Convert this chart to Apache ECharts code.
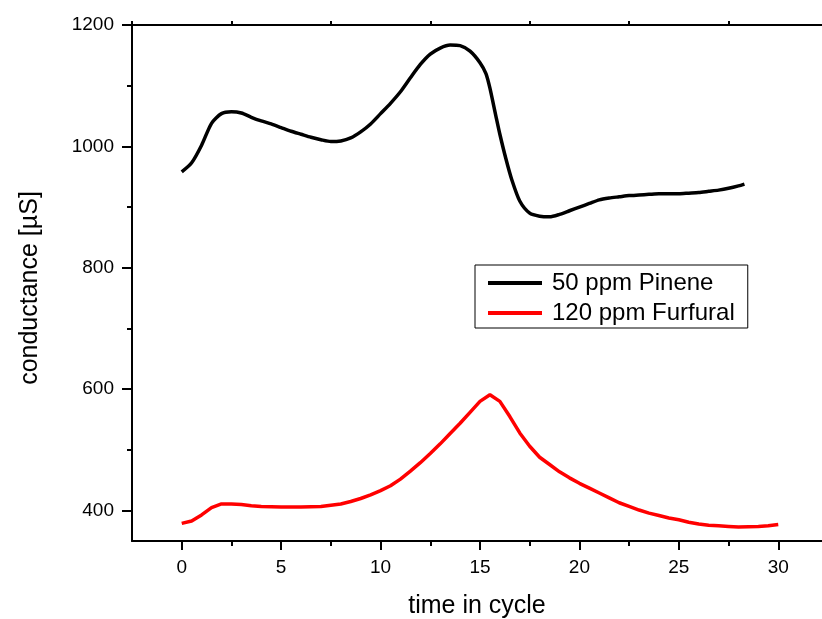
<!DOCTYPE html>
<html>
<head>
<meta charset="utf-8">
<script src="https://cdn.jsdelivr.net/npm/echarts@6/dist/echarts.min.js"></script>
<style>html,body{margin:0;padding:0;background:#fff}#c{width:822px;height:619px}</style>
</head>
<body>
<div id="c"></div>
<script>
// Data
var pineneX = [0,0.5,1,1.5,2,2.5,3,3.5,4,4.5,5,5.5,6,6.5,7,7.5,8,8.5,9,9.5,10,10.5,11,11.5,12,12.5,13,13.5,14,14.5,15,15.3,15.5,15.8,16,16.3,16.6,17,17.5,18,18.5,19,19.5,20,20.5,21,21.5,22,22.5,23,23.5,24,24.5,25,25.5,26,26.5,27,27.5,28,28.3];
var pineneY = [958,973,1002,1038,1054,1057,1055,1048,1042,1037,1031,1025,1020,1015,1011,1008,1009,1014,1024,1037,1054,1071,1090,1113,1135,1152,1162,1167,1166,1157,1138,1120,1096,1050,1020,980,945,910,890,885,884,888,894,900,906,912,915,917,919,920,921,922,922,922,923,924,926,928,931,935,938];
var furfuralX = [0,0.5,1,1.5,2,2.5,3,3.5,4,4.5,5,5.5,6,6.5,7,7.5,8,8.5,9,9.5,10,10.5,11,11.5,12,12.5,13,13.5,14,14.5,15,15.5,16,16.5,17,17.5,18,18.5,19,19.5,20,20.5,21,21.5,22,22.5,23,23.5,24,24.5,25,25.5,26,26.5,27,27.5,28,28.5,29,29.5,30];
var furfuralY = [379,383,393,405,411,411,410,408,407,406.5,406,406,406,406.5,407,409,411,415,420,426,433,441,452,465,479,494,510,527,544,562,580,591,580,555,528,506,488,476,464,454,445,437,429,421,413,407,401,396,392,388,385,381,378,376,375,374,373,373.5,374,375,377];
var seriesNames = ["50 ppm Pinene", "120 ppm Furfural"];
var xMajorTicks = [0,5,10,15,20,25,30];
var xMinorTicks = [2.5,7.5,12.5,17.5,22.5,27.5];
var xTopTicks = [-2.5,2.5,7.5,12.5,17.5,22.5,27.5];
var yMajorTicks = [400,600,800,1000,1200];
var yMinorTicks = [500,700,900,1100];
var xTitle = "time in cycle";
var yTitle = "conductance [µS]";

function pairs(xs, ys){ return xs.map(function(x,i){ return [x, ys[i]]; }); }
function plain(v){ return String(v); }

var FONT = "Liberation Sans, Arial, Helvetica, sans-serif";
var chart = echarts.init(document.getElementById('c'));
var XMIN = -2.5, XMAX = 32.2, YMIN = 350, YMAX = 1200;
var axisLineStyle = {color:'#000', width:2};
chart.setOption({
  animation:false,
  backgroundColor:'#fff',
  grid:{left:132, top:25, right:0, bottom:78, containLabel:false, outerBoundsMode:'none'},
  legend:{
    orient:'vertical', left:475, top:265,
    data:seriesNames,
    borderColor:'#000', borderWidth:1, padding:[6,13,3,13],
    itemWidth:54, itemHeight:4, itemGap:6, icon:'rect',
    textStyle:{fontFamily:FONT, fontSize:24, color:'#000', lineHeight:24, padding:[0,0,0,5]}
  },
  xAxis:[
    {type:'value', position:'bottom', min:XMIN, max:XMAX,
     axisLine:{show:true, onZero:false, lineStyle:axisLineStyle},
     axisTick:{show:true, customValues:xMajorTicks, length:9, lineStyle:{color:'#000', width:2}},
     axisLabel:{show:true, customValues:xMajorTicks, formatter:plain, margin:17, color:'#000', fontSize:19, fontFamily:FONT},
     splitLine:{show:false},
     name:xTitle, nameLocation:'middle', nameGap:53,
     nameTextStyle:{fontFamily:FONT, fontSize:25, color:'#000'}},
    {type:'value', position:'bottom', min:XMIN, max:XMAX,
     axisLine:{show:false, onZero:false},
     axisTick:{show:true, customValues:xMinorTicks, length:5, lineStyle:{color:'#000', width:2}},
     axisLabel:{show:false}, splitLine:{show:false}},
    {type:'value', position:'top', min:XMIN, max:XMAX,
     axisLine:{show:true, onZero:false, lineStyle:axisLineStyle},
     axisTick:{show:true, customValues:xTopTicks, length:4, lineStyle:{color:'#000', width:2}},
     axisLabel:{show:false}, splitLine:{show:false}}
  ],
  yAxis:[
    {type:'value', position:'left', min:YMIN, max:YMAX,
     axisLine:{show:true, onZero:false, lineStyle:axisLineStyle},
     axisTick:{show:true, customValues:yMajorTicks, length:10, lineStyle:{color:'#000', width:2}},
     axisLabel:{show:true, customValues:yMajorTicks, formatter:plain, margin:18, color:'#000', fontSize:19, fontFamily:FONT},
     splitLine:{show:false},
     name:yTitle, nameLocation:'middle', nameGap:89,
     nameTextStyle:{fontFamily:FONT, fontSize:25, color:'#000', padding:[0,10,0,0]}},
    {type:'value', position:'left', min:YMIN, max:YMAX,
     axisLine:{show:false, onZero:false},
     axisTick:{show:true, customValues:yMinorTicks, length:5, lineStyle:{color:'#000', width:2}},
     axisLabel:{show:false}, splitLine:{show:false}}
  ],
  series:[
    {name:seriesNames[0], type:'line', xAxisIndex:0, yAxisIndex:0, data:pairs(pineneX, pineneY),
     showSymbol:false, smooth:0.25, color:'#000', lineStyle:{color:'#000', width:3.5}},
    {name:seriesNames[1], type:'line', xAxisIndex:0, yAxisIndex:0, data:pairs(furfuralX, furfuralY),
     showSymbol:false, smooth:false, color:'#ff0000', lineStyle:{color:'#ff0000', width:3.5}}
  ]
});
</script>
</body>
</html>
